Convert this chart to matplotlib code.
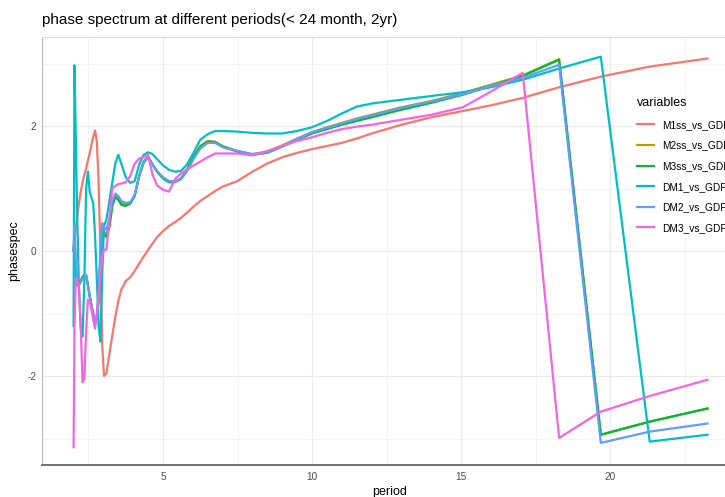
import matplotlib.pyplot as plt

plt.rcParams['font.family'] = ['Liberation Sans', 'DejaVu Sans']
plt.rcParams['axes.unicode_minus'] = False

# period grid (months) shared by all series
period = [2.00, 2.03, 2.07, 2.12, 2.18, 2.24, 2.30, 2.36, 2.42, 2.48,
          2.54, 2.60, 2.66, 2.72, 2.78, 2.84, 2.90, 2.96, 3.02, 3.10,
          3.20, 3.30, 3.40, 3.50, 3.60, 3.75, 3.90, 4.05, 4.20, 4.35,
          4.50, 4.65, 4.80, 5.00, 5.20, 5.40, 5.60, 5.80, 6.00, 6.25,
          6.50, 6.75, 7.00, 7.50, 8.00, 8.50, 9.00, 9.50, 10.0, 10.5,
          11.0, 11.5, 12.0, 13.0, 14.0, 15.06, 16.0, 17.07, 18.29, 19.69,
          21.33, 23.27]

m1ss = [0.00, 0.15, 0.35, 0.55, 0.76, 0.95, 1.10, 1.22, 1.32, 1.45,
        1.56, 1.70, 1.83, 1.93, 1.75, 1.10, -0.05, -1.50, -2.00, -1.96,
        -1.65, -1.35, -1.05, -0.80, -0.62, -0.48, -0.42, -0.32, -0.20, -0.09,
        0.02, 0.12, 0.22, 0.32, 0.40, 0.46, 0.53, 0.61, 0.70, 0.80,
        0.88, 0.96, 1.03, 1.12, 1.27, 1.40, 1.50, 1.57, 1.63, 1.68,
        1.73, 1.80, 1.88, 2.02, 2.14, 2.24, 2.33, 2.45, 2.62, 2.79,
        2.95, 3.08]

m2ss = [0.00, 0.25, -0.25, -0.52, -0.50, -0.47, -0.42, -0.38, -0.39, -0.54,
        -0.71, -0.87, -1.00, -1.13, -1.06, -0.78, -0.08, 0.33, 0.31, 0.26,
        0.42, 0.75, 0.88, 0.84, 0.76, 0.74, 0.77, 0.89, 1.21, 1.43,
        1.51, 1.39, 1.28, 1.17, 1.11, 1.11, 1.16, 1.30, 1.49, 1.68,
        1.76, 1.75, 1.68, 1.60, 1.55, 1.59, 1.69, 1.80, 1.90, 1.98,
        2.05, 2.12, 2.18, 2.30, 2.40, 2.53, 2.66, 2.81, 3.07, -2.94,
        -2.73, -2.52]

m3ss = [0.00, 0.20, -0.30, -0.55, -0.50, -0.48, -0.42, -0.38, -0.40, -0.55,
        -0.72, -0.88, -1.02, -1.15, -1.08, -0.80, -0.10, 0.30, 0.27, 0.22,
        0.38, 0.72, 0.86, 0.82, 0.74, 0.72, 0.76, 0.88, 1.20, 1.42,
        1.50, 1.38, 1.27, 1.16, 1.10, 1.10, 1.15, 1.29, 1.48, 1.67,
        1.75, 1.74, 1.67, 1.59, 1.54, 1.57, 1.67, 1.78, 1.88, 1.95,
        2.02, 2.08, 2.14, 2.26, 2.37, 2.50, 2.64, 2.80, 3.06, -2.94,
        -2.73, -2.52]

dm1 = [-1.20, 2.97, 1.90, 0.60, -0.60, -1.25, -1.37, -0.50, 1.00, 1.27,
       0.95, 0.85, 0.76, 0.25, -0.45, -1.20, -1.45, -0.40, 0.40, 0.50,
       0.80, 1.10, 1.40, 1.54, 1.40, 1.18, 1.09, 1.12, 1.38, 1.54,
       1.58, 1.55, 1.47, 1.37, 1.30, 1.27, 1.28, 1.38, 1.55, 1.78,
       1.87, 1.92, 1.92, 1.91, 1.89, 1.88, 1.88, 1.92, 1.98, 2.08,
       2.20, 2.31, 2.36, 2.42, 2.48, 2.54, 2.62, 2.74, 2.92, 3.11,
       -3.05, -2.94]

dm2 = [0.00, 0.40, -0.10, -0.50, -0.55, -0.50, -0.45, -0.40, -0.38, -0.55,
       -0.72, -0.88, -1.00, -1.15, -1.05, -0.70, 0.05, 0.45, 0.38, 0.34,
       0.52, 0.80, 0.92, 0.88, 0.80, 0.77, 0.78, 0.90, 1.20, 1.41,
       1.50, 1.38, 1.28, 1.18, 1.12, 1.11, 1.15, 1.27, 1.45, 1.64,
       1.73, 1.73, 1.66, 1.60, 1.55, 1.58, 1.68, 1.79, 1.90, 1.97,
       2.04, 2.11, 2.17, 2.29, 2.39, 2.51, 2.64, 2.77, 2.98, -3.07,
       -2.89, -2.76]

dm3 = [-3.14, -1.20, -0.50, -0.44, -0.60, -1.20, -2.10, -2.05, -1.30, -0.78,
       -0.80, -0.94, -1.10, -1.24, -1.00, -0.70, -0.40, -0.10, 0.02, 0.02,
       0.50, 1.00, 1.04, 1.07, 1.08, 1.10, 1.20, 1.40, 1.48, 1.50,
       1.54, 1.22, 1.05, 0.98, 0.95, 1.15, 1.24, 1.30, 1.36, 1.43,
       1.50, 1.56, 1.56, 1.56, 1.53, 1.60, 1.68, 1.76, 1.82, 1.89,
       1.95, 1.99, 2.02, 2.10, 2.18, 2.30, 2.55, 2.85, -2.99, -2.57,
       -2.32, -2.06]

names = ['M1ss_vs_GDP', 'M2ss_vs_GDP', 'M3ss_vs_GDP',
         'DM1_vs_GDP', 'DM2_vs_GDP', 'DM3_vs_GDP']
colors = ['#F8766D', '#B79F00', '#00BA38', '#00BFC4', '#619CFF', '#F564E3']

W, H = 725, 497
fig = plt.figure(figsize=(W / 100, H / 100), dpi=100)
# panel runs past the right edge of the picture (the original is cropped)
ax = fig.add_axes([42 / W, (H - 465) / H, (740 - 42) / W, (465 - 37) / H])

for name, vals, c in zip(names, [m1ss, m2ss, m3ss, dm1, dm2, dm3], colors):
    ax.plot(period, vals, color=c, lw=1.6, label=name, solid_joinstyle='round')

ax.set_xlim(0.94, 24.36)
ax.set_ylim(-3.424, 3.424)
ax.set_xticks([5, 10, 15, 20])
ax.set_yticks([-2, 0, 2])
ax.set_xticks([2.5, 7.5, 12.5, 17.5, 22.5], minor=True)
ax.set_yticks([-3, -1, 1, 3], minor=True)
ax.grid(which='major', color='#EBEBEB', lw=0.9)
ax.grid(which='minor', color='#F3F3F3', lw=0.6)
ax.set_axisbelow(True)
ax.tick_params(which='both', length=0, labelsize=7.2, labelcolor='#4D4D4D')
ax.tick_params(axis='x', pad=5)
ax.tick_params(axis='y', pad=4)

ax.spines['right'].set_visible(False)
ax.spines['top'].set_color('#DDDDDD')
ax.spines['top'].set_linewidth(0.8)
ax.spines['left'].set_color('#BBBBBB')
ax.spines['left'].set_linewidth(0.8)
ax.spines['bottom'].set_color('#666666')
ax.spines['bottom'].set_linewidth(1.3)

fig.text(42 / W, 1 - 20 / H, 'phase spectrum at different periods(< 24 month, 2yr)',
         fontsize=11, va='center', ha='left', color='black')
fig.text(14 / W, 1 - 251 / H, 'phasespec', fontsize=9, rotation=90,
         va='center', ha='center')
fig.text(390 / W, 1 - 492 / H, 'period', fontsize=9, va='center', ha='center')

leg = ax.legend(loc='upper left', bbox_to_anchor=(628 / W, 1 - 88 / H),
                bbox_transform=fig.transFigure, title='variables',
                fontsize=7.3, title_fontsize=9, frameon=True, fancybox=False,
                handlelength=1.7, handletextpad=0.8, labelspacing=1.05,
                borderpad=0.4, alignment='left')
leg.get_frame().set_facecolor('white')
leg.get_frame().set_edgecolor('white')
leg.get_frame().set_alpha(1)
for line in leg.get_lines():
    line.set_linewidth(1.6)

fig.savefig('out.png', dpi=100)
